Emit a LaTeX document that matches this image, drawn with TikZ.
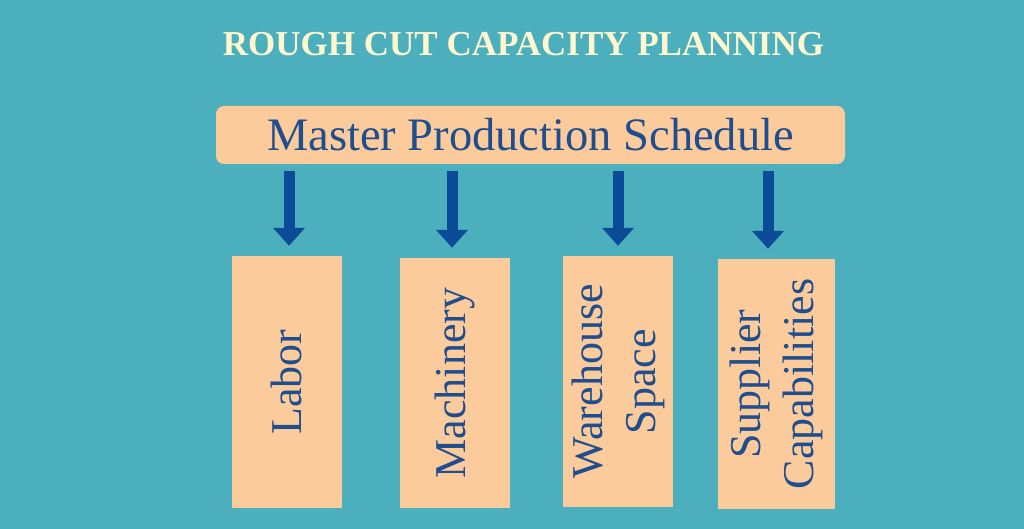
\documentclass[tikz,border=0pt]{standalone}
\usepackage{fontspec}
\setmainfont{Liberation Serif}
\usepackage{xcolor}
\usepackage{tikz}
\usetikzlibrary{positioning, calc, arrows.meta}
\definecolor{teal}{HTML}{4BAFBD}
\definecolor{peach}{HTML}{FCCB9C}
\definecolor{ink}{HTML}{1F4E8F}
\definecolor{arrowblue}{HTML}{0A4C97}
\definecolor{cream}{HTML}{FFF8CF}

\begin{document}
\begin{tikzpicture} [x = 1pt, y = 1pt,
					box/.style = {fill = peach,
					    text = ink,
					    rotate = 90,
					    align = center,
					    inner sep = 0pt,
					    minimum height = 110pt,
					    font = \fontsize{44}{53}\selectfont},
					arr/.style = {draw = arrowblue,
					    line width = 11pt,
					    -{Triangle[width = 31pt, length = 18pt]}}]

					\fill[teal] (0,0) rectangle (1024,529);
					\node (title) at (523.5,473) [anchor = base, text = cream,
					    font = \fontsize{35}{40}\selectfont\bfseries] {ROUGH CUT CAPACITY PLANNING};
					\node (mps) at (530.5,394) [fill = peach, text = ink, rounded corners = 8pt,
					    minimum width = 629pt, minimum height = 58pt, inner sep = 0pt,
					    font = \fontsize{46.5}{50}\selectfont] {Master Production Schedule};

					\node (labor) at (286.5,147) [box, minimum width = 252pt] {Labor};
					\node (mach) at (454.5,146) [box, minimum width = 250pt] {Machinery};
					\node (ware) at (618,147.5) [box, minimum width = 251pt] {Warehouse\\Space};
					\node (supp) at (776.5,145) [box, minimum width = 250pt, minimum height = 117pt] {Supplier\\Capabilities};

					\foreach \b/\dx in {labor/2.5, mach/-2.5, ware/0, supp/-8.5}
					    \draw[arr] ($(\b.east |- mps.south)+(\dx,-7)$) -- ($(\b.east)+(\dx,10)$);
				\end{tikzpicture}
\end{document}
